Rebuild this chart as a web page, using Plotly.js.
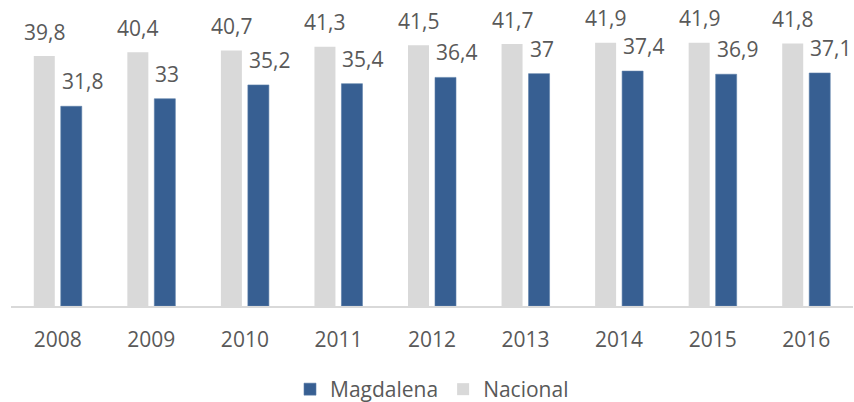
<!DOCTYPE html>
<html>
<head>
<meta charset="utf-8">
<script src="https://cdn.plot.ly/plotly-3.0.1.min.js"></script>
<style>
  html, body { margin: 0; padding: 0; background: #ffffff; }
  #chart { width: 854px; height: 402px; }
</style>
</head>
<body>
<div id="chart"></div>
<script>
// ---- data ----
var years = ['2008', '2009', '2010', '2011', '2012', '2013', '2014', '2015', '2016'];
var nacional = [39.8, 40.4, 40.7, 41.3, 41.5, 41.7, 41.9, 41.9, 41.8];
var magdalena = [31.8, 33, 35.2, 35.4, 36.4, 37, 37.4, 36.9, 37.1];
var seriesNames = ['Nacional', 'Magdalena'];

// ---- styles ----
var TEXT = '#595959';
var FONT = 'Open Sans, DejaVu Sans, sans-serif';
var FS = 21;
var GRAY = '#D9D9D9';
var BLUE = '#375F92';

function fmt(v) { return String(v).replace('.', ','); }

var traces = [
  {
    type: 'bar', name: seriesNames[0], x: years, y: nacional,
    marker: { color: GRAY }, hoverinfo: 'none'
  },
  {
    type: 'bar', name: seriesNames[1], x: years, y: magdalena,
    marker: { color: BLUE, line: { color: '#5B7DA8', width: 0.6 } }, hoverinfo: 'none'
  }
];

// value labels: x given as category index on the category axis
var annotations = [];
years.forEach(function (yr, i) {
  annotations.push({
    x: i, y: nacional[i], xref: 'x', yref: 'y',
    text: fmt(nacional[i]), showarrow: false,
    xanchor: 'center', yanchor: 'middle', xshift: -13.5, yshift: 24.5,
    font: { family: FONT, size: FS, color: TEXT }
  });
  annotations.push({
    x: i, y: magdalena[i], xref: 'x', yref: 'y',
    text: fmt(magdalena[i]), showarrow: false,
    xanchor: 'left', yanchor: 'middle', xshift: 2, yshift: 25,
    font: { family: FONT, size: FS, color: TEXT }
  });
});

var layout = {
  width: 854, height: 402,
  margin: { l: 11, r: 1, t: 20, b: 96, autoexpand: false },
  paper_bgcolor: '#ffffff', plot_bgcolor: '#ffffff',
  barmode: 'group', bargap: 0.423, bargroupgap: 0.222,
  showlegend: true,
  legend: {
    orientation: 'h', x: 0.5, xanchor: 'center', y: -0.292, yanchor: 'middle',
    traceorder: 'reversed', font: { family: FONT, size: FS, color: TEXT },
    itemwidth: 30
  },
  xaxis: {
    type: 'category', range: [-0.5, years.length - 0.5], autorange: false,
    showgrid: false, zeroline: false,
    showline: true, linecolor: GRAY, linewidth: 1.5,
    ticks: '', ticklabelstandoff: 14,
    tickfont: { family: FONT, size: FS, color: TEXT },
    fixedrange: true
  },
  yaxis: {
    range: [0, 45.54], autorange: false, visible: false, showgrid: false, zeroline: false, fixedrange: true
  },
  annotations: annotations
};

Plotly.newPlot('chart', traces, layout, { displayModeBar: false, staticPlot: true });
</script>
</body>
</html>
